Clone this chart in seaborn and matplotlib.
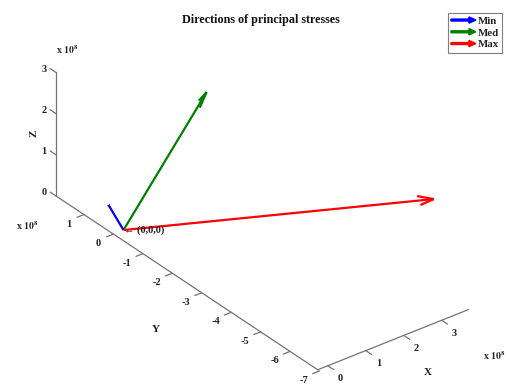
import numpy as np
import matplotlib
matplotlib.use("Agg")
import matplotlib.pyplot as plt
import seaborn as sns
from matplotlib.lines import Line2D
from matplotlib.patches import FancyArrow
from matplotlib.legend_handler import HandlerBase

# ---------------- data (units of 1e8) ----------------
names = ["Min", "Med", "Max"]
colors = ["#0000ff", "#008000", "#ff0000"]
u_vals = [-0.266, 3.70, 2.79]
v_vals = [0.166, 1.95, -6.94]
w_vals = [0.628, 1.06, 3.02]
head_ratio = [0.04, 0.09, 0.05]
x_ticks = [0, 1, 2, 3]
y_ticks = [1, 0, -1, -2, -3, -4, -5, -6, -7]
z_ticks = [0, 1, 2, 3]
title = "Directions of principal stresses"

# ---------------- style ----------------
sns.set_theme(style="white")
plt.rcParams["font.family"] = ["Liberation Serif", "DejaVu Serif"]
plt.rcParams["mathtext.fontset"] = "stix"
plt.rcParams["font.weight"] = "bold"

W, H = 508, 385
fig = plt.figure(figsize=(W / 100, H / 100), dpi=100, facecolor="white")
ax = fig.add_axes([0.05, 0.05, 0.9 * H / W, 0.9], projection="3d", proj_type="ortho")
ax.set_facecolor("none")

xmin, xmax = min(0, min(u_vals)), max(0, max(u_vals))
ymin, ymax = min(0, min(v_vals)), max(0, max(v_vals))
zmin, zmax = min(0, min(w_vals)), max(0, max(w_vals))
for setter, lo, hi in ((ax.set_xlim, xmin, xmax), (ax.set_ylim, ymin, ymax), (ax.set_zlim, zmin, zmax)):
    try:
        setter(lo, hi, view_margin=0)
    except TypeError:
        setter(lo, hi)
ax.set_box_aspect((xmax - xmin, ymax - ymin, zmax - zmin))
ax.view_init(elev=31, azim=-127.8)
ax.set_axis_off()

# quiver arrows
for u, v, w, c, hr in zip(u_vals, v_vals, w_vals, colors, head_ratio):
    ax.quiver(0, 0, 0, u, v, w, color=c, arrow_length_ratio=hr, linewidth=1.6)

# axis lines (MATLAB style)
axc = "0.45"
alw = 0.9
ax.plot([xmin, xmax], [ymin, ymin], [zmin, zmin], color=axc, lw=alw)
ax.plot([xmin, xmin], [ymin, ymax], [zmin, zmin], color=axc, lw=alw)
ax.plot([xmin, xmin], [ymax, ymax], [zmin, zmax], color=axc, lw=alw)

tfs = 7.5
lfs = 8
txtc = "#222222"
labels3d = []  # (3D anchor, text, kwargs) -> placed as 2D text after layout
for t in x_ticks:
    ax.plot([t, t], [ymin, ymin - 0.2], [zmin, zmin], color=axc, lw=alw)
    labels3d.append(((t - 0.115, ymin - 0.58, zmin), str(t), dict(ha="center", fontsize=tfs)))
for t in y_ticks:
    ax.plot([xmin, xmin - 0.18], [t, t], [zmin, zmin], color=axc, lw=alw)
    labels3d.append(((xmin - 0.49, t - 0.11, zmin), str(t), dict(ha="center", fontsize=tfs)))
for t in z_ticks:
    ax.plot([xmin, xmin], [ymax, ymax + 0.2], [t, t], color=axc, lw=alw)
    labels3d.append(((xmin - 0.12, ymax + 0.25, t), str(t), dict(ha="center", fontsize=tfs)))
labels3d.append(((1.476, -8.42, zmin), "X", dict(ha="center", fontsize=lfs)))
labels3d.append(((-1.92, -3.58, zmin), "Y", dict(ha="center", fontsize=lfs)))
labels3d.append(((xmin - 0.36, ymax + 0.28, 1.51), "Z", dict(ha="center", fontsize=lfs, rotation=90)))
labels3d.append(((0, 0, 0), "\u2190 (0,0,0)", dict(ha="left", fontsize=7.5)))

# ---------------- place the 3D box where the reference has it ----------------
targets_img = [((xmin, ymax, zmin), (56, 196)),
               ((xmin, ymin, zmin), (318, 368)),
               ((xmax, ymin, zmin), (468, 312)),
               ((xmin, ymax, zmax), (56, 71))]


def to_px(p):
    M = ax.M
    vec = M @ np.array([p[0], p[1], p[2], 1.0])
    xs, ys = vec[0] / vec[3], vec[1] / vec[3]
    return ax.transData.transform((xs, ys))


for _ in range(2):
    fig.canvas.draw()
    bb = ax.get_position().transformed(fig.transFigure)
    c = np.array([(bb.x0 + bb.x1) / 2, (bb.y0 + bb.y1) / 2])
    S = bb.width
    P = np.array([to_px(p) for p, _t in targets_img]) - c
    T = np.array([(tx, H - ty) for _p, (tx, ty) in targets_img], dtype=float)
    Pm, Tm = P.mean(axis=0), T.mean(axis=0)
    s = np.sum((P - Pm) * (T - Tm)) / np.sum((P - Pm) ** 2)
    cn = Tm - s * Pm
    Sn = S * s
    ax.set_position([(cn[0] - Sn / 2) / W, (cn[1] - Sn / 2) / H, Sn / W, Sn / H])

fig.canvas.draw()
for p, s_, kw in labels3d:
    px, py = to_px(p)
    fig.text(px / W, py / H, s_, va="center", fontweight="bold", color=txtc, **kw)

# ---------------- texts outside axes ----------------
fig.text(261 / W, 1 - 20 / H, title, ha="center", va="center", fontsize=8.7, fontweight="bold", color="#111111")
mult = r"$\mathbf{x\ 10^{8}}$"
fig.text(67 / W, 1 - 50 / H, mult, ha="center", va="center", fontsize=7, color=txtc)
fig.text(27 / W, 1 - 226 / H, mult, ha="center", va="center", fontsize=7, color=txtc)
fig.text(494 / W, 1 - 356 / H, mult, ha="center", va="center", fontsize=7, color=txtc)


class ArrowHandler(HandlerBase):
    def create_artists(self, legend, orig_handle, xdescent, ydescent, width, height, fontsize, trans):
        y = height / 2 - ydescent
        arr = FancyArrow(-xdescent, y, width, 0, width=1.4, head_width=4.5, head_length=5,
                         length_includes_head=True, color=orig_handle.get_color(), transform=trans)
        return [arr]


handles = [Line2D([], [], color=c, label=n) for n, c in zip(names, colors)]
leg = fig.legend(handles=handles, loc="upper right", bbox_to_anchor=(502 / W, 1 - 13 / H),
                 handler_map={Line2D: ArrowHandler()}, fontsize=7.8, frameon=True, fancybox=False,
                 framealpha=1, edgecolor="0.5", handlelength=2.3, handletextpad=0.15,
                 borderpad=0.3, labelspacing=0.2, borderaxespad=0)
leg.get_frame().set_linewidth(0.8)
for t in leg.get_texts():
    t.set_fontweight("bold")

fig.savefig("out.png", dpi=100, facecolor="white")
